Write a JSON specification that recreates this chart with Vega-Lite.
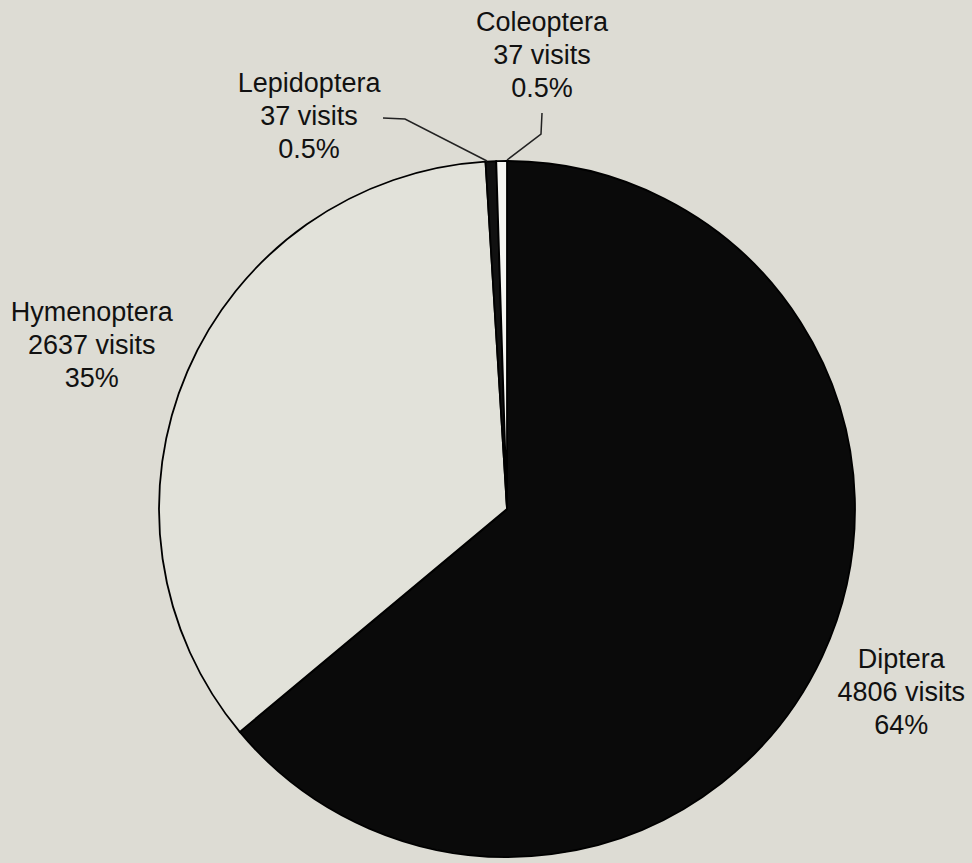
{
  "$schema": "https://vega.github.io/schema/vega-lite/v6.json",
  "width": 930,
  "height": 708,
  "autosize": "none",
  "padding": {"left": 42, "top": 155, "right": 0, "bottom": 0},
  "background": "#dddcd4",
  "config": {"view": {"stroke": null}, "font": "Liberation Sans"},
  "datasets": {
    "visits": [
      {"insect": "Diptera", "visits": 4806, "pct": "64%", "order": 1},
      {"insect": "Hymenoptera", "visits": 2637, "pct": "35%", "order": 2},
      {"insect": "Lepidoptera", "visits": 37, "pct": "0.5%", "order": 3},
      {"insect": "Coleoptera", "visits": 37, "pct": "0.5%", "order": 4}
    ],
    "leaders": [
      {"label": "Lepidoptera", "seq": 1, "px": -0.3563, "py": 1.1236},
      {"label": "Lepidoptera", "seq": 2, "px": -0.2931, "py": 1.1207},
      {"label": "Lepidoptera", "seq": 3, "px": -0.0575, "py": 1.0},
      {"label": "Coleoptera", "seq": 1, "px": 0.1006, "py": 1.1379},
      {"label": "Coleoptera", "seq": 2, "px": 0.0977, "py": 1.0776},
      {"label": "Coleoptera", "seq": 3, "px": 0.0, "py": 1.0029}
    ]
  },
  "layer": [
    {
      "data": {"name": "visits"},
      "transform": [
        {"stack": "visits", "groupby": [], "sort": [{"field": "order", "order": "ascending"}], "as": ["v0", "v1"]},
        {"calculate": "datum.insect + '\\n' + datum.visits + ' visits\\n' + datum.pct", "as": "label"}
      ],
      "layer": [
        {
          "mark": {"type": "arc", "outerRadius": 348, "stroke": "#000000", "strokeWidth": 1.8},
          "encoding": {
            "theta": {"field": "v1", "type": "quantitative", "stack": null},
            "theta2": {"field": "v0"},
            "color": {
              "field": "insect",
              "type": "nominal",
              "scale": {"domain": ["Diptera", "Hymenoptera", "Lepidoptera", "Coleoptera"], "range": ["#0a0a0a", "#e2e2da", "#111111", "#f6f6f2"]},
              "legend": null
            }
          }
        },
        {
          "transform": [{"filter": "datum.insect == 'Diptera'"}],
          "mark": {"type": "text", "radius": 435, "thetaOffset": 2.0071, "dy": -33, "fontSize": 27, "lineHeight": 33, "lineBreak": "\n", "align": "center", "baseline": "middle", "color": "#111111"},
          "encoding": {"theta": {"field": "v0", "type": "quantitative", "stack": null}, "text": {"field": "label"}}
        },
        {
          "transform": [{"filter": "datum.insect == 'Hymenoptera'"}],
          "mark": {"type": "text", "radius": 446, "thetaOffset": 1.0689, "dy": -33, "fontSize": 27, "lineHeight": 33, "lineBreak": "\n", "align": "center", "baseline": "middle", "color": "#111111"},
          "encoding": {"theta": {"field": "v0", "type": "quantitative", "stack": null}, "text": {"field": "label"}}
        },
        {
          "transform": [{"filter": "datum.insect == 'Lepidoptera'"}],
          "mark": {"type": "text", "radius": 439, "thetaOffset": -0.4058, "dy": -33, "fontSize": 27, "lineHeight": 33, "lineBreak": "\n", "align": "center", "baseline": "middle", "color": "#111111"},
          "encoding": {"theta": {"field": "v0", "type": "quantitative", "stack": null}, "text": {"field": "label"}}
        },
        {
          "transform": [{"filter": "datum.insect == 'Coleoptera'"}],
          "mark": {"type": "text", "radius": 454, "thetaOffset": 0.108, "dy": -33, "fontSize": 27, "lineHeight": 33, "lineBreak": "\n", "align": "center", "baseline": "middle", "color": "#111111"},
          "encoding": {"theta": {"field": "v0", "type": "quantitative", "stack": null}, "text": {"field": "label"}}
        }
      ]
    },
    {
      "data": {"name": "leaders"},
      "mark": {"type": "line", "stroke": "#222222", "strokeWidth": 1.5},
      "encoding": {
        "x": {"field": "px", "type": "quantitative", "scale": {"domain": [-1.3362, 1.3362], "nice": false, "zero": false}, "axis": null},
        "y": {"field": "py", "type": "quantitative", "scale": {"domain": [-1.01724, 1.01724], "nice": false, "zero": false}, "axis": null},
        "detail": {"field": "label"},
        "order": {"field": "seq"}
      }
    }
  ]
}
